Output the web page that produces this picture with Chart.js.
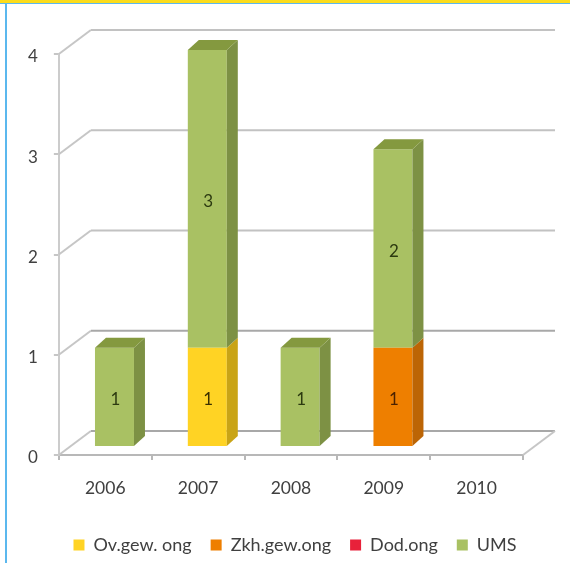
<!DOCTYPE html>
<html>
<head>
<meta charset="utf-8">
<style>
  html, body { margin: 0; padding: 0; background: #fff; width: 570px; height: 563px; overflow: hidden; }
  #wrap { position: relative; width: 570px; height: 563px; }
  canvas { position: absolute; left: 0; top: 0; }
  .rule { position: absolute; }
</style>
<script src="https://cdn.jsdelivr.net/npm/chart.js@4"></script>
</head>
<body>
<div id="wrap">
  <canvas id="chart" width="570" height="563"></canvas>
  <div class="rule" style="left:0;top:0;width:570px;height:3px;background:#fbdc1c"></div>
  <div class="rule" style="left:0;top:3px;width:570px;height:1px;background:#5bb8ee"></div>
  <div class="rule" style="left:5px;top:3px;width:2px;height:560px;background:#5bb8ee"></div>
</div>
<script>
const categories = ['2006', '2007', '2008', '2009', '2010'];
const ovGewOng = [0, 1, 0, 0, 0];
const zkhGewOng = [0, 0, 0, 1, 0];
const dodOng = [0, 0, 0, 0, 0];
const ums = [1, 3, 1, 2, 0];
const yTicks = [0, 1, 2, 3, 4];

// Faces of each series: front, right side, top
const faces = [
  { front: '#ffd324', side: '#c9a416', top: '#d8b51e' },
  { front: '#ee7f00', side: '#bc6505', top: '#c96d05' },
  { front: '#e8213a', side: '#b0182c', top: '#c01c30' },
  { front: '#a9c163', side: '#7d9144', top: '#84993f' }
];

const FONT = 'Lato, "Open Sans", sans-serif';
const WALL = { dx: 32, dy: -24 };      // floor depth of the box
const PLANE = { dx: 9.2, dy: -8, sy: 0.99 }; // plane the bars stand on
const BAR = { dx: 11, dy: -10 };       // depth of a bar
const LEGEND_SHIFT = { x: 27.5, y: 0 };

function enterBarPlane(chart) {
  const ctx = chart.ctx;
  const base = chart.scales.y.getPixelForValue(0);
  ctx.translate(PLANE.dx, base + PLANE.dy);
  ctx.scale(1, PLANE.sy);
  ctx.translate(0, -base);
}

const box3d = {
  id: 'box3d',
  afterLayout(chart) {
    // the legend row sits off-centre, under the whole box including its depth
    const lg = chart.legend;
    lg.left += LEGEND_SHIFT.x;
    lg.right += LEGEND_SHIFT.x;
    lg.top += LEGEND_SHIFT.y;
    lg.bottom += LEGEND_SHIFT.y;
  },
  beforeDatasetsDraw(chart) {
    const { ctx, scales: { x, y } } = chart;
    const left = x.left, right = x.right;
    ctx.save();
    ctx.lineWidth = 2;
    yTicks.forEach(v => {
      const py = y.getPixelForValue(v);
      ctx.strokeStyle = '#c6c6c6';
      ctx.beginPath();
      ctx.moveTo(left, py);
      ctx.lineTo(left + WALL.dx, py + WALL.dy);
      ctx.stroke();
      ctx.strokeStyle = v === 1 || v === 0 ? '#a8a8a8' : '#c2c2c2';
      ctx.beginPath();
      ctx.moveTo(left + WALL.dx, py + WALL.dy);
      ctx.lineTo(right + WALL.dx, py + WALL.dy);
      ctx.stroke();
    });
    // right edge of the floor
    const py0 = y.getPixelForValue(0);
    ctx.strokeStyle = '#c6c6c6';
    ctx.beginPath();
    ctx.moveTo(right, py0);
    ctx.lineTo(right + WALL.dx, py0 + WALL.dy);
    ctx.stroke();
    ctx.restore();
    ctx.save();
    enterBarPlane(chart);
  },
  afterDatasetsDraw(chart) {
    const ctx = chart.ctx;
    const count = categories.length;
    for (let i = 0; i < count; i++) {
      let topSeg = null;
      chart.data.datasets.forEach((ds, d) => {
        if (!ds.data[i]) return;
        const el = chart.getDatasetMeta(d).data[i];
        const x2 = el.x + el.width / 2;
        ctx.fillStyle = faces[d].side;
        ctx.beginPath();
        ctx.moveTo(x2, el.y);
        ctx.lineTo(x2 + BAR.dx, el.y + BAR.dy);
        ctx.lineTo(x2 + BAR.dx, el.base + BAR.dy);
        ctx.lineTo(x2, el.base);
        ctx.closePath();
        ctx.fill();
        topSeg = { el, d };
      });
      if (topSeg) {
        const { el, d } = topSeg;
        const x1 = el.x - el.width / 2, x2 = el.x + el.width / 2;
        ctx.fillStyle = faces[d].top;
        ctx.beginPath();
        ctx.moveTo(x1, el.y);
        ctx.lineTo(x1 + BAR.dx, el.y + BAR.dy);
        ctx.lineTo(x2 + BAR.dx, el.y + BAR.dy);
        ctx.lineTo(x2, el.y);
        ctx.closePath();
        ctx.fill();
      }
    }
    // value labels in the middle of each segment
    ctx.font = '17px ' + FONT;
    ctx.textAlign = 'center';
    ctx.textBaseline = 'middle';
    chart.data.datasets.forEach((ds, d) => {
      ds.data.forEach((v, i) => {
        if (!v) return;
        const el = chart.getDatasetMeta(d).data[i];
        ctx.fillStyle = d === 3 ? '#2c3a10' : (d === 0 ? '#3a3000' : '#4a2200');
        ctx.fillText(String(v), el.x + 1, (el.y + el.base) / 2 + 3);
      });
    });
    ctx.restore();
  }
};

const seriesValues = [ovGewOng, zkhGewOng, dodOng, ums];
const seriesNames = ['Ov.gew. ong', 'Zkh.gew.ong', 'Dod.ong', 'UMS'];

new Chart(document.getElementById('chart'), {
  type: 'bar',
  plugins: [box3d],
  data: {
    labels: categories,
    datasets: seriesNames.map((name, d) => ({
      label: name,
      data: seriesValues[d],
      backgroundColor: faces[d].front,
      borderWidth: 0,
      clip: false,
      barPercentage: 1,
      categoryPercentage: 0.42
    }))
  },
  options: {
    responsive: false,
    animation: false,
    layout: { padding: { left: 12, right: 47, top: 54, bottom: -1 } },
    plugins: {
      tooltip: { enabled: false },
      legend: {
        position: 'bottom',
        labels: {
          boxWidth: 11,
          boxHeight: 11,
          padding: 19,
          color: '#404040',
          font: { family: FONT, size: 18 }
        }
      }
    },
    scales: {
      x: {
        stacked: true,
        grid: { offset: true, drawOnChartArea: false, tickLength: 5, color: '#b8b8b8', lineWidth: 2 },
        border: { color: '#b8b8b8', width: 2 },
        ticks: { color: '#404040', padding: 18, maxRotation: 0, font: { family: FONT, size: 17.5 } }
      },
      y: {
        stacked: true,
        min: 0,
        max: 4,
        grid: { drawOnChartArea: false, tickLength: 5, color: '#c6c6c6', lineWidth: 2 },
        border: { color: '#cccccc', width: 2 },
        ticks: { color: '#404040', padding: 16, stepSize: 1, labelOffset: 3, font: { family: FONT, size: 17 } }
      }
    }
  }
});
</script>
</body>
</html>
